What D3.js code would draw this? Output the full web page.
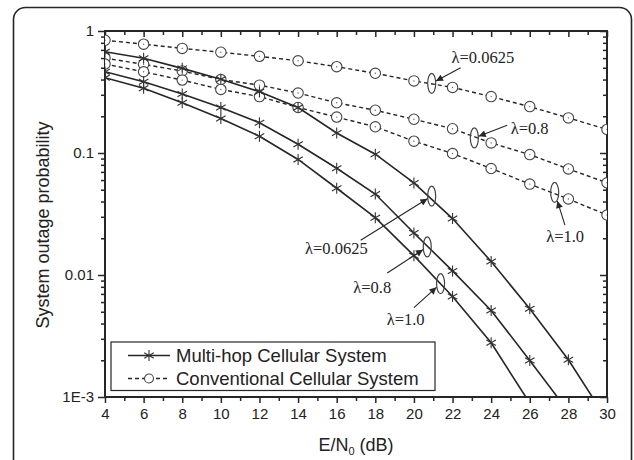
<!DOCTYPE html>
<html>
<head>
<meta charset="utf-8">
<script src="https://cdn.jsdelivr.net/npm/d3@7"></script>
<style>
body { margin: 0; background: #fff; }
text { font-family: "Liberation Sans", Arial, sans-serif; fill: #222; }
.note { font-family: "Liberation Serif", "Times New Roman", serif; font-size: 16.5px; }
</style>
</head>
<body>
<div id="chart"></div>
<script>

// E/N0 values (dB)
var snr = [4, 6, 8, 10, 12, 14, 16, 18, 20, 22, 24, 26, 28, 30];

// conventional cellular system (dashed, circles)
var convL00625 = [0.84, 0.78, 0.72, 0.67, 0.62, 0.57, 0.51, 0.45, 0.39, 0.345, 0.29, 0.24, 0.194, 0.156];
var convL08    = [0.60, 0.533, 0.47, 0.40, 0.36, 0.31, 0.258, 0.224, 0.189, 0.158, 0.121, 0.097, 0.074, 0.057];
var convL10    = [0.536, 0.463, 0.396, 0.332, 0.29, 0.236, 0.197, 0.164, 0.125, 0.099, 0.0746, 0.0556, 0.042, 0.031];

// multi-hop cellular system (solid, stars); null = past the end of the curve
var mhL00625 = [0.676, 0.597, 0.494, 0.403, 0.318, 0.236, 0.146, 0.0978, 0.0568, 0.029, 0.0129, 0.00529, 0.00202, 0.00065];
var mhL08    = [0.463, 0.384, 0.304, 0.236, 0.177, 0.118, 0.075, 0.0461, 0.0221, 0.0108, 0.00512, 0.00199, 0.00076, null];
var mhL10    = [0.414, 0.339, 0.258, 0.192, 0.137, 0.0885, 0.0514, 0.0295, 0.0144, 0.00667, 0.00278, 0.00089, null, null];

var xTicks = [4, 6, 8, 10, 12, 14, 16, 18, 20, 22, 24, 26, 28, 30];
var yTicks = [1, 0.1, 0.01, 0.001];
var yTickLabels = ["1", "0.1", "0.01", "1E-3"];

var legendLabels = ["Multi-hop Cellular System", "Conventional Cellular System"];

// lambda callouts: ellipse centre, arrow tail, text position (all in data units)
var notes = [
    {label: "\u03bb=0.0625", ex: 20.92, ey: 0.372, ax: 22.42, ay: 0.50, tx: 21.95, ty: 0.55},
    {label: "\u03bb=0.8", ex: 23.13, ey: 0.133, ax: 24.83, ay: 0.169, tx: 25.01, ty: 0.142},
    {label: "\u03bb=1.0", ex: 27.29, ey: 0.0475, ax: 27.82, ay: 0.0256, tx: 26.85, ty: 0.0187},
    {label: "\u03bb=0.0625", ex: 20.92, ey: 0.0443, ax: 17.24, ay: 0.0193, tx: 14.36, ty: 0.0150},
    {label: "\u03bb=0.8", ex: 20.69, ey: 0.0170, ax: 18.62, ay: 0.0104, tx: 16.86, ty: 0.00713},
    {label: "\u03bb=1.0", ex: 21.38, ey: 0.0085, ax: 20.0, ay: 0.0054, tx: 18.59, ty: 0.00387}
];

var width = 634, height = 460;
var margin = {top: 31, right: 27, bottom: 63, left: 105};
var innerW = width - margin.left - margin.right,
    innerH = height - margin.top - margin.bottom;
var ink = "#262626";

var svg = d3.select("#chart").append("svg")
    .attr("width", width)
    .attr("height", height);

// outer rounded frame (runs off the bottom of the picture)
svg.append("rect")
    .attr("x", 13.5).attr("y", 7.5)
    .attr("width", 618).attr("height", 490)
    .attr("rx", 12)
    .attr("fill", "none")
    .attr("stroke", ink)
    .attr("stroke-width", 1.6);

var defs = svg.append("defs");
defs.append("clipPath").attr("id", "plotclip")
    .append("rect").attr("width", innerW).attr("height", innerH);
defs.append("marker")
    .attr("id", "arrow")
    .attr("viewBox", "0 0 10 10")
    .attr("refX", 10).attr("refY", 5)
    .attr("markerWidth", 9).attr("markerHeight", 7)
    .attr("markerUnits", "userSpaceOnUse")
    .attr("orient", "auto")
    .append("path").attr("d", "M0,0L10,5L0,10Z").attr("fill", ink);

var g = svg.append("g").attr("transform", "translate(" + margin.left + "," + margin.top + ")");

var x = d3.scaleLinear().domain([4, 30]).range([0, innerW]);
var y = d3.scaleLog().domain([0.001, 1]).range([innerH, 0]);

// axes
var minorX = d3.range(5, 30, 2);
var minorY = [];
[0.001, 0.01, 0.1].forEach(function(d) {
    for (var k = 2; k <= 9; k++) minorY.push(d * k);
});

function styleAxis(sel) {
    sel.select(".domain").remove();
    sel.selectAll("line").attr("stroke", ink).attr("stroke-width", 1.5);
    sel.selectAll("text").style("font-size", "15px").attr("fill", "#222");
}

g.append("g").attr("transform", "translate(0," + innerH + ")")
    .call(d3.axisBottom(x).tickValues(xTicks).tickFormat(d3.format("d")).tickSize(6).tickPadding(5))
    .call(styleAxis);
g.append("g").attr("transform", "translate(0," + innerH + ")")
    .call(d3.axisBottom(x).tickValues(minorX).tickFormat("").tickSize(4))
    .call(styleAxis);
g.append("g")
    .call(d3.axisTop(x).tickValues(xTicks).tickFormat("").tickSize(-6))
    .call(styleAxis);
g.append("g")
    .call(d3.axisTop(x).tickValues(minorX).tickFormat("").tickSize(-4))
    .call(styleAxis);

g.append("g")
    .call(d3.axisLeft(y).tickValues(yTicks).tickFormat(function(d, i) { return yTickLabels[i]; }).tickSize(7).tickPadding(4))
    .call(styleAxis);
g.append("g")
    .call(d3.axisLeft(y).tickValues(minorY).tickFormat("").tickSize(4))
    .call(styleAxis);
g.append("g").attr("transform", "translate(" + innerW + ",0)")
    .call(d3.axisRight(y).tickValues(yTicks).tickFormat("").tickSize(-7))
    .call(styleAxis);
g.append("g").attr("transform", "translate(" + innerW + ",0)")
    .call(d3.axisRight(y).tickValues(minorY).tickFormat("").tickSize(-4))
    .call(styleAxis);

g.append("rect")
    .attr("width", innerW).attr("height", innerH)
    .attr("fill", "none").attr("stroke", ink).attr("stroke-width", 2);

// axis titles
svg.append("text")
    .attr("x", margin.left + innerW / 2).attr("y", 451)
    .attr("text-anchor", "middle")
    .style("font-size", "18px")
    .call(function(t) {
        t.append("tspan").text("E/N");
        t.append("tspan").attr("dy", 4).style("font-size", "11px").text("0");
        t.append("tspan").attr("dy", -4).text(" (dB)");
    });
svg.append("text")
    .attr("transform", "translate(49,225) rotate(-90)")
    .attr("text-anchor", "middle")
    .style("font-size", "18px")
    .text("System outage probability");

// curves
var plot = g.append("g").attr("clip-path", "url(#plotclip)");

var line = d3.line()
    .defined(function(d) { return d[1] != null; })
    .x(function(d) { return x(d[0]); })
    .y(function(d) { return y(d[1]); });

var starPath = function(r) {
    var c = r * 0.866, s = r * 0.5;
    return "M0," + (-r) + "V" + r +
        "M" + (-c) + "," + (-s) + "L" + c + "," + s +
        "M" + (-c) + "," + s + "L" + c + "," + (-s);
};

[convL00625, convL08, convL10].forEach(function(series) {
    var pts = snr.map(function(d, i) { return [d, series[i]]; });
    plot.append("path").datum(pts)
        .attr("d", line)
        .attr("fill", "none")
        .attr("stroke", ink)
        .attr("stroke-width", 1.4)
        .attr("stroke-dasharray", "4,3");
    var m = plot.append("g").selectAll("g").data(pts).enter().append("g")
        .attr("transform", function(d) { return "translate(" + x(d[0]) + "," + y(d[1]) + ")"; });
    m.append("circle").attr("r", 5.2).attr("fill", "#fff").attr("stroke", "#444").attr("stroke-width", 1.1);
    m.append("circle").attr("r", 0.7).attr("fill", "#666");
});

[mhL00625, mhL08, mhL10].forEach(function(series) {
    var pts = snr.map(function(d, i) { return [d, series[i]]; });
    plot.append("path").datum(pts)
        .attr("d", line)
        .attr("fill", "none")
        .attr("stroke", ink)
        .attr("stroke-width", 1.6);
    plot.append("g").selectAll("path").data(pts.filter(function(d) { return d[1] != null; })).enter().append("path")
        .attr("transform", function(d) { return "translate(" + x(d[0]) + "," + y(d[1]) + ")"; })
        .attr("d", starPath(5.5))
        .attr("stroke", "#333")
        .attr("stroke-width", 1.1)
        .attr("fill", "none");
});

// lambda callouts
var rx = 4, ry = 10;
notes.forEach(function(n) {
    var cx = x(n.ex), cy = y(n.ey), tx = x(n.ax), ty = y(n.ay);
    g.append("ellipse")
        .attr("cx", cx).attr("cy", cy).attr("rx", rx).attr("ry", ry)
        .attr("fill", "none").attr("stroke", "#444").attr("stroke-width", 1.2);
    // arrow stops at the ellipse edge
    var dx = tx - cx, dy = ty - cy;
    var k = 1 / Math.sqrt((dx * dx) / (rx * rx) + (dy * dy) / (ry * ry));
    g.append("line")
        .attr("x1", tx).attr("y1", ty)
        .attr("x2", cx + dx * k * 1.1).attr("y2", cy + dy * k * 1.1)
        .attr("stroke", ink).attr("stroke-width", 1.1)
        .attr("marker-end", "url(#arrow)");
    g.append("text").attr("class", "note")
        .attr("x", x(n.tx)).attr("y", y(n.ty))
        .text(n.label);
});

// legend
var leg = g.append("g").attr("transform", "translate(6," + (innerH - 55) + ")");
leg.append("rect")
    .attr("width", 324).attr("height", 48.5)
    .attr("fill", "#fff").attr("stroke", ink).attr("stroke-width", 1.2);
legendLabels.forEach(function(label, i) {
    var row = leg.append("g").attr("transform", "translate(0," + (13.5 + i * 23) + ")");
    row.append("line")
        .attr("x1", 17).attr("x2", 59)
        .attr("stroke", ink).attr("stroke-width", 1.5)
        .attr("stroke-dasharray", i === 0 ? null : "4,3");
    if (i === 0) {
        row.append("path").attr("transform", "translate(38,0)").attr("d", starPath(5.5))
            .attr("stroke", "#333").attr("stroke-width", 1.1).attr("fill", "none");
    } else {
        row.append("circle").attr("cx", 38).attr("r", 4.5)
            .attr("fill", "#fff").attr("stroke", "#444").attr("stroke-width", 1.1);
    }
    row.append("text").attr("x", 65).attr("y", 6.5)
        .style("font-size", "18.5px")
        .text(label);
});

</script>
</body>
</html>
